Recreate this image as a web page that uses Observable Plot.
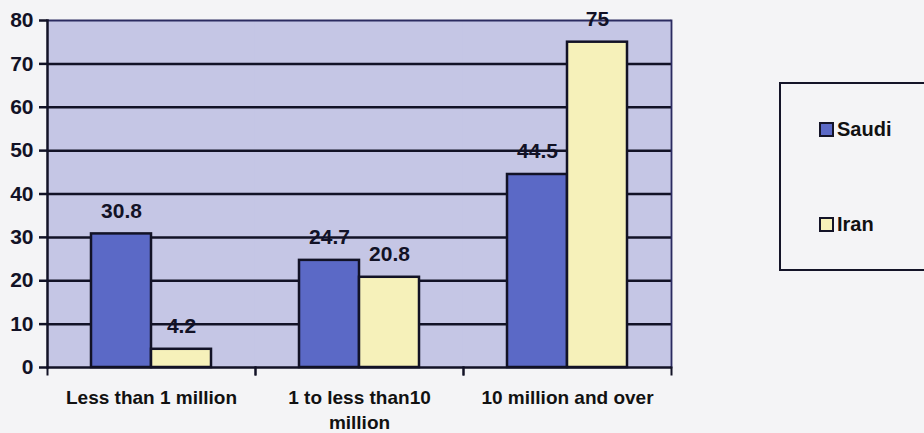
<!DOCTYPE html>
<html>
<head>
<meta charset="utf-8">
<script src="https://cdn.jsdelivr.net/npm/d3@7"></script>
<script src="https://cdn.jsdelivr.net/npm/@observablehq/plot@0.6"></script>
<style>
  html, body { margin: 0; padding: 0; background: #f4f4f6; overflow: hidden; }
  #wrap { position: relative; width: 924px; height: 433px; }
  #wrap svg { display: block; font-family: "Liberation Sans", Arial, sans-serif; }
  .legend {
    position: absolute; left: 779px; top: 82px; width: 160px; height: 189px;
    border: 2.5px solid #141428; box-sizing: border-box;
    font-family: "Liberation Sans", Arial, sans-serif; font-weight: bold; font-size: 20px; color: #111;
  }
  .legend .item { position: absolute; left: 38px; display: flex; align-items: center; }
  .legend .swatch { width: 11px; height: 11px; border: 2px solid #141428; margin-right: 3px; }
</style>
</head>
<body>
<div id="wrap"></div>
<script>
// City size classes and the share (%) for each country
const categories = ["Less than 1 million", "1 to less than10 million", "10 million and over"];
const categoryLabels = ["Less than 1 million", "1 to less than10\nmillion", "10 million and over"];
const series = ["Saudi", "Iran"];
const saudi = [30.8, 24.7, 44.5];
const iran = [4.2, 20.8, 75];
const yTicks = [0, 10, 20, 30, 40, 50, 60, 70, 80];
const colors = ["#5b69c6", "#f6f1ba"];

const rows = categories.flatMap((c, i) => [
  {category: c, series: "Saudi", value: saudi[i]},
  {category: c, series: "Iran", value: iran[i]}
]);

const W = 924, H = 433, mT = 20, mB = 66, mL = 47, mR = 253;
const ink = "#121226";

const chart = Plot.plot({
  width: W, height: H,
  marginTop: mT, marginBottom: mB, marginLeft: mL, marginRight: mR,
  style: {background: "transparent", overflow: "visible"},
  fx: {domain: categories, padding: 0, label: null},
  x: {domain: series, paddingInner: 0, paddingOuter: 0.73, axis: null},
  y: {domain: [0, 80], axis: null},
  color: {domain: series, range: colors},
  marks: [
    // plot area fill, slightly overlapped so neighbouring facets leave no seam
    Plot.frame({fill: "#c5c6e5", stroke: null, insetLeft: -0.6, insetRight: -0.6}),
    Plot.ruleY(yTicks.filter(d => d > 0 && d < 80), {stroke: ink, strokeWidth: 2.5}),
    Plot.ruleY([80], {stroke: "#2b2b60", strokeWidth: 1.8}),
    Plot.frame({anchor: "right", facetAnchor: "right", stroke: "#2b2b60", strokeWidth: 1.8}),
    Plot.barY(rows, {fx: "category", x: "series", y: "value", fill: "series", stroke: ink, strokeWidth: 2.5}),
    Plot.ruleY([0], {stroke: ink, strokeWidth: 2.5}),
    Plot.frame({anchor: "left", facetAnchor: "left", stroke: ink, strokeWidth: 2.5}),
    // small ticks on the band boundaries below the baseline
    Plot.frame({anchor: "left", insetTop: H - mT - mB, insetBottom: -7, stroke: ink, strokeWidth: 2}),
    Plot.frame({anchor: "right", insetTop: H - mT - mB, insetBottom: -7, stroke: ink, strokeWidth: 2}),
    Plot.text(rows, {
      fx: "category", x: "series", y: "value", text: d => String(d.value),
      dy: -23, fontSize: 21, fontWeight: "bold", fill: ink
    }),
    Plot.axisY({
      ticks: yTicks, tickSize: 8, tickPadding: 6, strokeWidth: 2.5, stroke: ink,
      fontSize: 21, fontWeight: "bold", fill: ink, label: null
    }),
    Plot.axisFx({
      anchor: "bottom", tickSize: 0, tickPadding: 19, label: null,
      tickFormat: d => categoryLabels[categories.indexOf(d)],
      fontSize: 19, fontWeight: "bold", fill: "#111", lineHeight: 1.3
    })
  ]
});

const wrap = document.getElementById("wrap");
wrap.appendChild(chart);

// Legend box on the right
const legend = document.createElement("div");
legend.className = "legend";
series.forEach((s, i) => {
  const item = document.createElement("div");
  item.className = "item";
  item.style.top = (i === 0 ? 34 : 129) + "px";
  const sw = document.createElement("span");
  sw.className = "swatch";
  sw.style.background = colors[i];
  const label = document.createElement("span");
  label.textContent = s;
  item.append(sw, label);
  legend.appendChild(item);
});
wrap.appendChild(legend);
</script>
</body>
</html>
